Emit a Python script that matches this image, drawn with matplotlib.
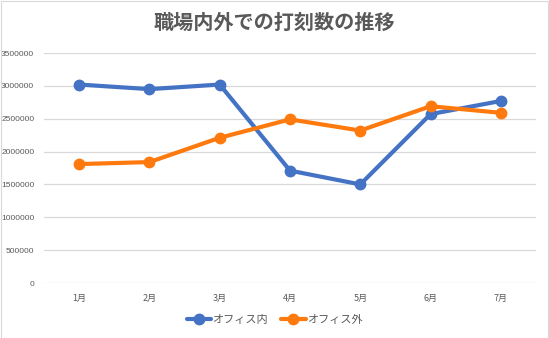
import matplotlib
matplotlib.use("Agg")
import matplotlib.pyplot as plt
from matplotlib.patches import Rectangle

plt.rcParams['font.family'] = ['Noto Sans CJK JP', 'DejaVu Sans']

months = ["1月", "2月", "3月", "4月", "5月", "6月", "7月"]
inside = [3020000, 2950000, 3020000, 1710000, 1500000, 2570000, 2770000]
outside = [1810000, 1840000, 2210000, 2490000, 2320000, 2690000, 2590000]
yticks = [0, 500000, 1000000, 1500000, 2000000, 2500000, 3000000, 3500000]

W, H = 549, 338
fig = plt.figure(figsize=(W / 100, H / 100), dpi=100)
fig.patches.append(Rectangle((0.5 / W, 0.5 / H), 1 - 1.5 / W, 1 - 1.5 / H, transform=fig.transFigure,
                             fill=False, edgecolor="#d9d9d9", linewidth=0.8))

ax = fig.add_axes([44 / W, 1 - 283 / H, (536 - 44) / W, (283 - 53) / H])
x = list(range(len(months)))
ax.plot(x, inside, color="#4472C4", linewidth=3.0, marker="o", markersize=7.5, label="オフィス内", solid_capstyle="round")
ax.plot(x, outside, color="#FF7A0E", linewidth=3.0, marker="o", markersize=7.5, label="オフィス外", solid_capstyle="round")

ax.set_xlim(-0.5, len(months) - 0.5)
ax.set_ylim(0, 3500000)
ax.set_yticks(yticks)
ax.set_yticklabels([str(v) for v in yticks], fontfamily="Liberation Sans", fontsize=6)
ax.set_xticks(x)
ax.set_xticklabels(months)
ax.tick_params(axis="x", length=0, labelsize=6.5, labelcolor="#595959", pad=8)
ax.tick_params(axis="y", length=0, labelcolor="#595959", pad=7)
ax.grid(axis="y", color="#d9d9d9", linewidth=0.9)
ax.set_axisbelow(True)
for s in ax.spines.values():
    s.set_visible(False)

fig.text(0.5, 1 - 22 / H, "職場内外での打刻数の推移", ha="center", va="center",
         fontsize=14.5, fontweight="bold", color="#595959")

leg = fig.legend(loc="center", bbox_to_anchor=(0.5, 1 - 320 / H), ncol=2, frameon=False,
                 fontsize=8, handlelength=2.2, handletextpad=0.1, columnspacing=1.2)
for t in leg.get_texts():
    t.set_color("#595959")

fig.savefig("out.png", dpi=100)
